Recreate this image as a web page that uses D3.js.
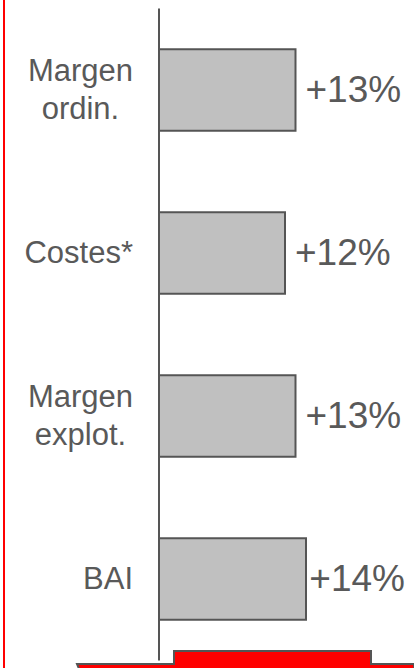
<!DOCTYPE html>
<html>
<head>
<meta charset="utf-8">
<script src="https://cdn.jsdelivr.net/npm/d3@7"></script>
<style>
  html, body { margin: 0; padding: 0; background: #fff; }
  svg { display: block; }
</style>
</head>
<body>
<svg id="chart" width="414" height="668"></svg>
<script>
// Growth by line item (% change)
const categories = ["Margen ordin.", "Costes*", "Margen explot.", "BAI"];
const labelLines = [["Margen", "ordin."], ["Costes*"], ["Margen", "explot."], ["BAI"]];
const values = [13, 12, 13, 14];
const valueLabels = ["+13%", "+12%", "+13%", "+14%"];

const W = 414, H = 668;
const ink = "#595959";
const edge = "#555555";
const font = "Arial, 'Liberation Sans', sans-serif";

const svg = d3.select("#chart");

const y = d3.scaleBand()
  .domain(categories)
  .range([8.5, 660.5])
  .paddingInner(0.5)
  .paddingOuter(0.25);

const x = d3.scaleLinear().domain([0, 14]).range([159, 306]);

// red frame edge on the left
svg.append("line")
  .attr("x1", 4).attr("x2", 4).attr("y1", 0).attr("y2", H)
  .attr("stroke", "#ff0000").attr("stroke-width", 2);

// bars
svg.selectAll("rect.bar")
  .data(categories)
  .join("rect")
  .attr("class", "bar")
  .attr("x", x(0))
  .attr("y", d => y(d))
  .attr("width", (d, i) => x(values[i]) - x(0))
  .attr("height", y.bandwidth())
  .attr("fill", "#c0c0c0")
  .attr("stroke", edge)
  .attr("stroke-width", 2);

// vertical baseline
svg.append("line")
  .attr("x1", x(0)).attr("x2", x(0))
  .attr("y1", y.range()[0]).attr("y2", y.range()[1])
  .attr("stroke", edge).attr("stroke-width", 2);

// value labels to the right of each bar, kept inside the frame
svg.selectAll("text.val")
  .data(categories)
  .join("text")
  .attr("class", "val")
  .attr("y", d => y(d) + y.bandwidth() / 2 + 12)
  .attr("font-family", font)
  .attr("font-size", 37)
  .attr("fill", ink)
  .text((d, i) => valueLabels[i])
  .attr("x", function (d, i) {
    const w = this.getComputedTextLength();
    return Math.min(x(values[i]) + 10, 405 - w);
  });

// category labels: lines centred within a block right-aligned to x = 133
const lineGap = 38;
categories.forEach((c, i) => {
  const lines = labelLines[i];
  const g = svg.append("g");
  const texts = lines.map((ln, j) => g.append("text")
    .attr("font-family", font)
    .attr("font-size", 31)
    .attr("fill", ink)
    .attr("text-anchor", "middle")
    .attr("y", y(c) + y.bandwidth() / 2 + 10 + (j - (lines.length - 1) / 2) * lineGap)
    .text(ln));
  const wMax = d3.max(texts, t => t.node().getComputedTextLength());
  texts.forEach(t => t.attr("x", 133 - wMax / 2));
});

// red tab at the foot
const foot = [[77, 664], [174, 664], [174, 651], [371, 651], [371, 664], [414, 664], [416, 700], [92, 700]];
svg.append("path")
  .attr("d", d3.line()(foot) + "Z")
  .attr("fill", "#ff0000")
  .attr("stroke", edge)
  .attr("stroke-width", 2);
</script>
</body>
</html>
